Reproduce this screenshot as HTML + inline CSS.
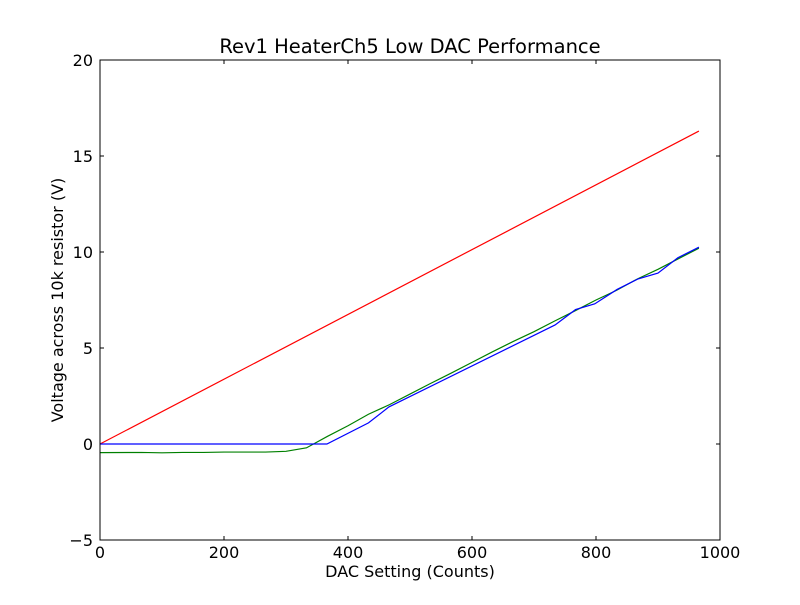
<!DOCTYPE html>
<html><head><meta charset="utf-8"><style>
body{margin:0;background:#fff;}
svg text{font-family:"DejaVu Sans","Liberation Sans",sans-serif;fill:#000;}
</style></head><body>
<svg id="chart" width="800" height="600" xmlns="http://www.w3.org/2000/svg">
<rect width="800" height="600" fill="#fff"/>
<text x="410" y="53" font-size="19.5" text-anchor="middle">Rev1 HeaterCh5 Low DAC Performance</text>
<text x="410" y="577" font-size="16" text-anchor="middle">DAC Setting (Counts)</text>
<text transform="translate(63,300) rotate(-90)" font-size="16" text-anchor="middle">Voltage across 10k resistor (V)</text>
<g id="plot"></g>
<rect x="100" y="60" width="620" height="480" fill="none" stroke="#000" stroke-width="1"/>
</svg>
<script>
const xTicks=[0,200,400,600,800,1000];
const yTicks=[-5,0,5,10,15,20];
const redX=[0,966];
const redY=[0,16.3];
const blueX=[0,366,433,466,734,767,798,834,868,900,932,966];
const blueY=[0,0,1.1,1.93,6.2,7.0,7.3,8.05,8.6,8.9,9.7,10.25];
const greenX=[0,67,100,133,167,200,233,267,300,333,367,400,433,467,500,533,567,600,633,667,700,733,767,800,833,867,900,933,966];
const greenY=[-0.45,-0.44,-0.46,-0.44,-0.44,-0.42,-0.42,-0.42,-0.38,-0.2,0.4,0.95,1.55,2.05,2.6,3.15,3.7,4.25,4.8,5.35,5.85,6.4,6.95,7.5,8.0,8.6,9.1,9.65,10.2];
const sx=v=>100+v*0.62;
const sy=v=>540-(v+5)*19.2;
const NS="http://www.w3.org/2000/svg";
const g=document.getElementById('plot');
function mk(t,a){const e=document.createElementNS(NS,t);for(const k in a)e.setAttribute(k,a[k]);g.appendChild(e);return e;}
xTicks.forEach(v=>{
  const x=sx(v);
  const t1=mk('line',{x1:x,x2:x,y1:540,y2:536,stroke:'#000'});
  
  
  const t2=mk('line',{x1:x,x2:x,y1:60,y2:64,stroke:'#000'});
  
  
  const l=mk('text',{x:x,y:558,'font-size':16,'text-anchor':'middle'});
  l.textContent=v;
  
  
});
yTicks.forEach(v=>{
  const y=sy(v);
  const t1=mk('line',{x1:100,x2:104,y1:y,y2:y,stroke:'#000'});
  
  
  const t2=mk('line',{x1:716,x2:720,y1:y,y2:y,stroke:'#000'});
  
  
  const l=mk('text',{x:93,y:y+6,'font-size':16,'text-anchor':'end'});
  l.textContent=v<0?'\u2212'+(-v):v;
  
  
});
function line(xs,ys,c,name){
  const p=mk('polyline',{points:xs.map((x,i)=>sx(x)+','+sy(ys[i])).join(' '),fill:'none',stroke:c,'stroke-width':1.2});
  
  
}
line(redX,redY,'#ff0000','red-series-line');
line(greenX,greenY,'#008000','green-series-line');
line(blueX,blueY,'#0000ff','blue-series-line');
</script>
</body></html>
